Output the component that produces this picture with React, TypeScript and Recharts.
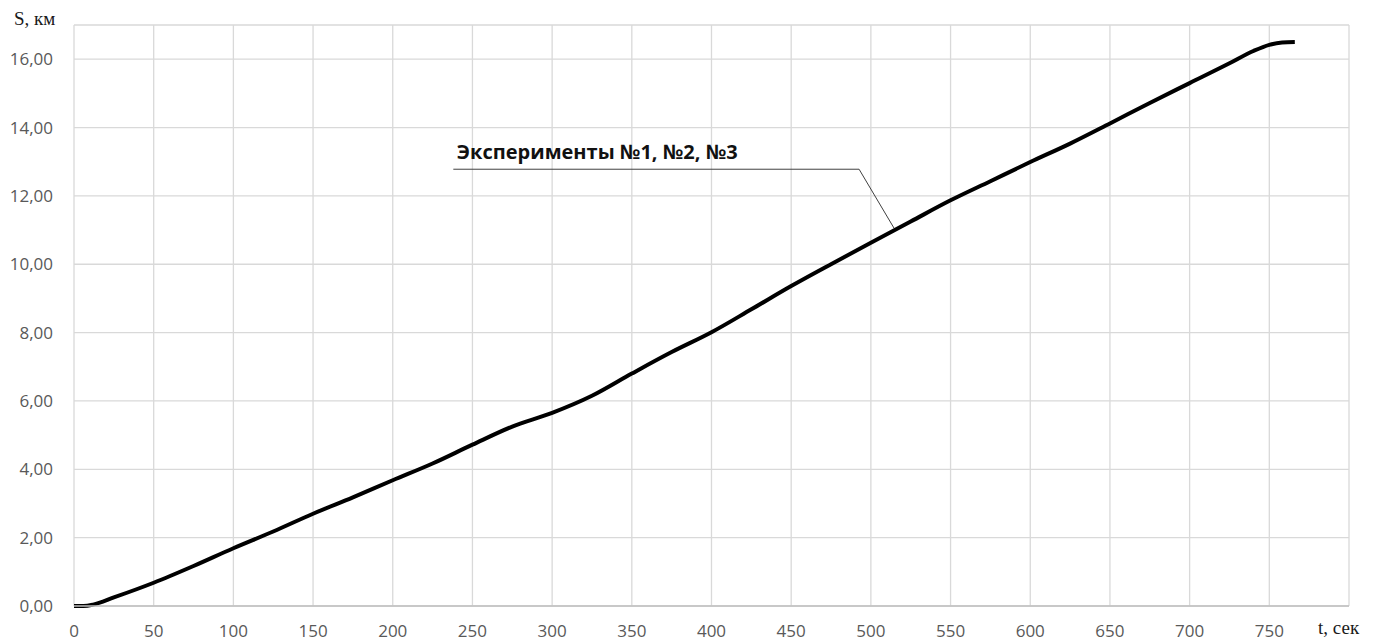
import React from 'react';
import { LineChart, Line, XAxis, YAxis, CartesianGrid, ReferenceLine, ReferenceDot } from 'recharts';

// Time, s
const timeSec = [0, 6, 12, 25, 50, 75, 100, 125, 150, 175, 200, 225, 250, 275, 300, 325, 350, 375, 400, 425, 450, 475, 500, 525, 550, 575, 600, 625, 650, 675, 700, 725, 740, 750, 758, 766];
// Distance, km
const distanceKm = [0, 0, 0.04, 0.25, 0.68, 1.17, 1.69, 2.18, 2.7, 3.18, 3.68, 4.17, 4.72, 5.25, 5.65, 6.15, 6.8, 7.43, 8.01, 8.68, 9.36, 10.0, 10.63, 11.25, 11.87, 12.43, 12.99, 13.53, 14.12, 14.72, 15.3, 15.88, 16.24, 16.42, 16.49, 16.5];

const xTicks = [0, 50, 100, 150, 200, 250, 300, 350, 400, 450, 500, 550, 600, 650, 700, 750, 800];
const yTicks = [0, 2, 4, 6, 8, 10, 12, 14, 16];

const seriesLabel = 'Эксперименты №1, №2, №3';
const yTitle = 'S, км';
const xTitle = 't, сек';

// Leader line for the series caption (data coordinates)
const leaderStart = { x: 238, y: 12.78 };
const leaderBend = { x: 492.6, y: 12.78 };
const leaderEnd = { x: 514.6, y: 11.05 };
const captionAnchor = { x: 240.2, y: 13.07 };

const data = timeSec.map((t, i) => ({ t, s: distanceKm[i] }));

const tickFont = { fontFamily: '"Open Sans", sans-serif', fontSize: 17, fill: '#595959' };

const fmtY = (v: number) => v.toFixed(2).replace('.', ',');
const fmtX = (v: number) => (v === 800 ? '' : String(v));

const YTitle = (props: any) => {
  const vb = props.viewBox || { x: 0, y: 0 };
  return (
    <text x={14} y={vb.y} fontFamily='"Liberation Serif", serif' fontSize={19} fill="#1a1a1a">
      {yTitle}
    </text>
  );
};

const XTitle = (props: any) => {
  const vb = props.viewBox || { x: 0, y: 0, width: 0 };
  return (
    <text x={vb.x + vb.width - 31} y={vb.y + 28} fontFamily='"Liberation Serif", serif' fontSize={19} fill="#1a1a1a">
      {xTitle}
    </text>
  );
};

const Caption = (props: any) => {
  const vb = props.viewBox || { x: 0, y: 0 };
  return (
    <text x={vb.x} y={vb.y} fontFamily='"Open Sans", sans-serif' fontWeight={700} fontSize={20} fill="#111">
      {seriesLabel}
    </text>
  );
};

export default function App() {
  return (
    <div style={{ position: 'absolute', left: 0, top: 0, width: 1384, height: 642, background: '#fff' }}>
      <LineChart width={1384} height={642} data={data} margin={{ top: 25, right: 35, bottom: 0, left: 0 }}>
        <CartesianGrid stroke="#d9d9d9" strokeWidth={1.3} />
        <XAxis
          dataKey="t"
          type="number"
          domain={[0, 800]}
          ticks={xTicks}
          tickFormatter={fmtX}
          tickLine={false}
          tickMargin={13}
          axisLine={{ stroke: '#bfbfbf', strokeWidth: 1.5 }}
          tick={tickFont}
          height={36}
          interval={0}
          label={<XTitle />}
        />
        <YAxis
          type="number"
          domain={[0, 17]}
          ticks={yTicks}
          tickFormatter={fmtY}
          tickLine={false}
          tickMargin={15}
          axisLine={false}
          tick={tickFont}
          width={74}
          interval={0}
          label={<YTitle />}
        />
        <ReferenceLine segment={[leaderStart, leaderBend]} stroke="#404040" strokeWidth={1} ifOverflow="visible" />
        <ReferenceLine segment={[leaderBend, leaderEnd]} stroke="#404040" strokeWidth={1} ifOverflow="visible" />
        <ReferenceDot x={captionAnchor.x} y={captionAnchor.y} r={0} stroke="none" fill="none" label={<Caption />} ifOverflow="visible" />
        <Line
          type="monotone"
          dataKey="s"
          stroke="#000"
          strokeWidth={4}
          dot={false}
          isAnimationActive={false}
        />
      </LineChart>
    </div>
  );
}
